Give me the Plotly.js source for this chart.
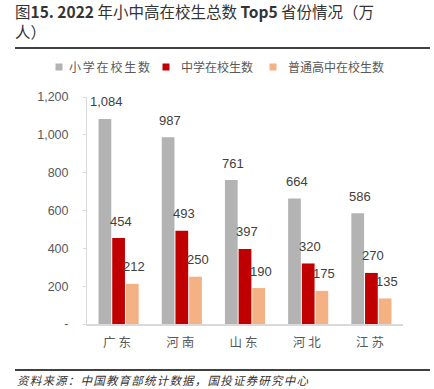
<!DOCTYPE html>
<html>
<head>
<meta charset="utf-8">
<script src="https://cdn.plot.ly/plotly-3.0.1.min.js"></script>
<style>
html,body{margin:0;padding:0;background:#fff;}
#chart{width:434px;height:389px;}
.xtick text{letter-spacing:3px;}
.legendtext{letter-spacing:1.8px;transform:translateX(-5px);}
.legendpoints path{d:path("M8.5,3.5H1.5V-3.5H8.5Z");}
</style>
</head>
<body>
<div id="chart"></div>
<script>
const provinces = ['广东', '河南', '山东', '河北', '江苏'];
const seriesNames = ['小学在校生数', '中学在校生数', '普通高中在校生数'];
const primary = [1084, 987, 761, 664, 586];
const middle = [454, 493, 397, 320, 270];
const highSchool = [212, 250, 190, 175, 135];
const yTickVals = [0, 200, 400, 600, 800, 1000, 1200];
const yTickText = ['-', '200', '400', '600', '800', '1,000', '1,200'];

const colors = ['#b3b3b3', '#c00000', '#f4b183'];
const seriesValues = [primary, middle, highSchool];
const legendIds = ['legend', 'legend2', 'legend3'];
const cjk = '"Noto Sans CJK SC", "Liberation Sans", sans-serif';
const latin = '"Liberation Sans", Arial, sans-serif';

const traces = seriesValues.map((vals, i) => ({
  type: 'bar',
  name: seriesNames[i],
  x: provinces,
  y: vals,
  marker: {color: colors[i]},
  legend: legendIds[i],
  hoverinfo: 'none'
}));

const slot = 13.7;
const annotations = [];
seriesValues.forEach((vals, i) => {
  vals.forEach((v, j) => {
    annotations.push({
      xref: 'x', yref: 'y',
      x: provinces[j], y: v,
      xshift: (i - 1) * slot + 2,
      yshift: 17,
      yanchor: 'middle', xanchor: 'center',
      text: v.toLocaleString('en-US'),
      showarrow: false,
      font: {family: latin, size: 13, color: '#404040'}
    });
  });
});
annotations.push({
  xref: 'paper', yref: 'paper',
  x: -0.2278, y: -0.2467,
  xanchor: 'left', yanchor: 'middle',
  text: '<span style="letter-spacing:1.2px"><i>资料来源：中国教育部统计数据，国投证券研究中心</i></span>',
  showarrow: false,
  font: {family: cjk, size: 11.5, color: '#333333'}
});

const plotL = 87, plotW = 316;
const legendSquarePx = [58, 165, 272];
function legendAt(px) {
  return {
    orientation: 'h',
    x: (px - 3 - 21 - plotL) / plotW, xanchor: 'left',
    y: 1.132, yanchor: 'middle',
    font: {family: cjk, size: 12, color: '#595959'},
    bgcolor: 'rgba(0,0,0,0)',
    itemwidth: 30
  };
}

const layout = {
  width: 434, height: 389,
  margin: {l: 87, r: 31, t: 97, b: 65},
  paper_bgcolor: '#ffffff',
  plot_bgcolor: '#ffffff',
  title: {
    text: '图<b>15. 2022</b> 年小中高在校生总数 <b>Top5</b> 省份情况（万<br>人）',
    xref: 'container', yref: 'container',
    x: 15 / 434, xanchor: 'left',
    y: 1 - 18 / 389, yanchor: 'top',
    font: {family: cjk, size: 15.5, color: '#333333'}
  },
  barmode: 'group',
  bargap: 0.35,
  bargroupgap: 0.07,
  showlegend: true,
  legend: legendAt(legendSquarePx[0]),
  legend2: legendAt(legendSquarePx[1]),
  legend3: legendAt(legendSquarePx[2]),
  xaxis: {
    type: 'category',
    showline: true, linecolor: '#d9d9d9', linewidth: 1.5,
    ticks: '',
    showgrid: false,
    tickfont: {family: cjk, size: 12.5, color: '#595959'},
    ticklabelstandoff: 6,
    fixedrange: true
  },
  yaxis: {
    range: [0, 1200],
    tickvals: yTickVals,
    ticktext: yTickText,
    showline: true, linecolor: '#d9d9d9', linewidth: 1,
    ticks: 'outside', ticklen: 3, tickcolor: '#d9d9d9',
    showgrid: false,
    zeroline: false,
    tickfont: {family: latin, size: 12.5, color: '#595959'},
    ticklabelstandoff: 12,
    fixedrange: true
  },
  shapes: [
    {type: 'line', xref: 'paper', yref: 'paper', x0: -0.2278, x1: 1.0854, y0: 1.2159, y1: 1.2159,
     line: {color: '#404040', width: 2}},
    {type: 'line', xref: 'paper', yref: 'paper', x0: -0.2278, x1: 1.0854, y0: -0.2026, y1: -0.2026,
     line: {color: '#404040', width: 2}}
  ],
  annotations: annotations
};

Plotly.newPlot('chart', traces, layout, {staticPlot: true, displayModeBar: false});
</script>
</body>
</html>
